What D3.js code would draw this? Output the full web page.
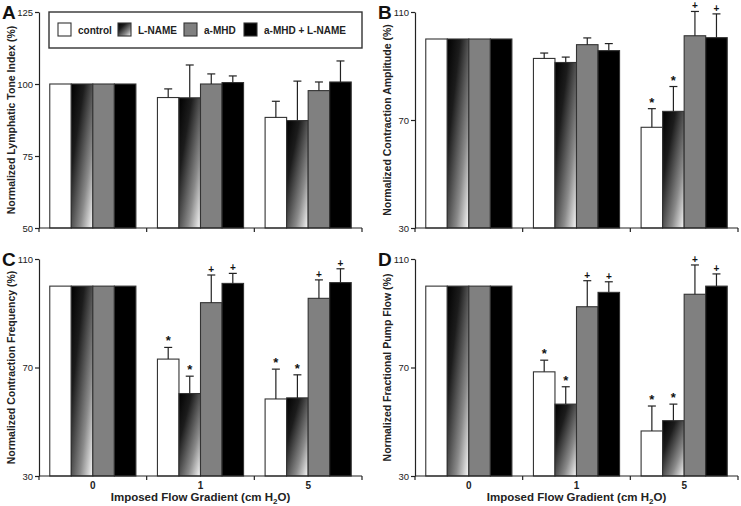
<!DOCTYPE html>
<html>
<head>
<meta charset="UTF-8">
<script src="https://d3js.org/d3.v7.min.js"></script>
<style>
  body { margin: 0; background: #fff; }
  svg { display: block; }
</style>
</head>
<body>
<svg></svg>
<script>
const width = 741, height = 506;
const font = "'Liberation Sans', Arial, sans-serif";

const groups = ["0", "1", "5"];
const series = ["control", "L-NAME", "a-MHD", "a-MHD + L-NAME"];

// means (%) and upper SE, one row per imposed flow gradient
const toneMean = [[100, 100, 100, 100], [95.3, 95.2, 100, 100.5], [88.4, 87.3, 97.7, 100.7]];
const toneErr  = [[0, 0, 0, 0], [3.0, 11.4, 3.5, 2.3], [5.6, 13.7, 3.0, 7.3]];

const ampMean = [[100, 100, 100, 100], [92.8, 91.3, 97.9, 95.7], [67.3, 73.2, 101.2, 100.5]];
const ampErr  = [[0, 0, 0, 0], [2.0, 2.0, 2.5, 2.6], [6.9, 9.2, 9.0, 8.8]];
const ampMarks = [["", "", "", ""], ["", "", "", ""], ["*", "*", "+", "+"]];

const freqMean = [[100, 100, 100, 100], [73.1, 60.4, 93.9, 101.0], [58.4, 58.8, 95.5, 101.3]];
const freqErr  = [[0, 0, 0, 0], [4.3, 6.4, 10.2, 3.7], [11.0, 8.5, 6.8, 5.1]];
const freqMarks = [["", "", "", ""], ["*", "*", "+", "+"], ["*", "*", "+", "+"]];

const pumpMean = [[100, 100, 100, 100], [68.4, 56.5, 92.4, 97.7], [46.6, 50.4, 97.0, 100.0]];
const pumpErr  = [[0, 0, 0, 0], [4.3, 6.4, 9.6, 3.9], [9.2, 6.1, 10.8, 4.5]];
const pumpMarks = [["", "", "", ""], ["*", "*", "+", "+"], ["*", "*", "+", "+"]];

const toneTicks = [50, 75, 100, 125];
const pctTicks = [30, 70, 110];

const svg = d3.select("svg")
    .attr("width", width)
    .attr("height", height)
    .attr("viewBox", [0, 0, width, height])
    .style("font-family", font);

const defs = svg.append("defs");
const grad = defs.append("linearGradient")
    .attr("id", "lname")
    .attr("x1", 0).attr("y1", 0).attr("x2", 1).attr("y2", 1);
[[0, "#000"], [0.3, "#1c1c1c"], [0.7, "#8a8a8a"], [1, "#fafafa"]].forEach(([o, c]) =>
  grad.append("stop").attr("offset", o).attr("stop-color", c));

const fills = d3.scaleOrdinal().domain(series).range(["#fff", "url(#lname)", "#808080", "#000"]);

function panel(p) {
  const g = svg.append("g");

  const y = d3.scaleLinear().domain(p.domain).range([p.bottom, p.top]);
  const x = d3.scaleBand().domain(groups).range([p.left, p.right])
      .paddingInner(0.2).paddingOuter(0.1);
  const xs = d3.scaleBand().domain(series).range([0, x.bandwidth()]);

  const rows = [];
  groups.forEach((grp, i) => series.forEach((s, j) => rows.push({
    grp, s, v: p.mean[i][j], e: p.err[i][j], m: p.marks ? p.marks[i][j] : ""
  })));

  g.append("g")
    .selectAll("rect")
    .data(rows)
    .join("rect")
      .attr("x", d => x(d.grp) + xs(d.s))
      .attr("y", d => y(d.v))
      .attr("width", xs.bandwidth())
      .attr("height", d => y(p.domain[0]) - y(d.v))
      .attr("fill", d => fills(d.s))
      .attr("stroke", "#333")
      .attr("stroke-width", 1.1);

  const eb = g.append("g")
      .attr("stroke", "#222")
      .attr("stroke-width", 1.2)
    .selectAll("g")
    .data(rows.filter(d => d.e > 0))
    .join("g")
      .attr("transform", d => `translate(${x(d.grp) + xs(d.s) + xs.bandwidth() / 2},0)`);
  eb.append("line")
      .attr("y1", d => y(d.v))
      .attr("y2", d => y(d.v + d.e));
  eb.append("line")
      .attr("x1", -4).attr("x2", 4)
      .attr("y1", d => y(d.v + d.e))
      .attr("y2", d => y(d.v + d.e));

  g.append("g")
    .selectAll("text")
    .data(rows.filter(d => d.m))
    .join("text")
      .attr("x", d => x(d.grp) + xs(d.s) + xs.bandwidth() / 2)
      .attr("y", d => y(d.v + d.e) - 2)
      .attr("text-anchor", "middle")
      .attr("font-size", d => d.m === "*" ? 13 : 10)
      .attr("font-weight", "bold")
      .attr("fill", "#111")
      .text(d => d.m);

  // y axis
  g.append("g")
      .attr("transform", `translate(${p.left},0)`)
      .call(d3.axisLeft(y).tickValues(p.ticks).tickSize(4).tickSizeOuter(0).tickPadding(2))
      .call(a => a.select(".domain").attr("stroke", "#222").attr("stroke-width", 1.2))
      .call(a => a.selectAll(".tick line").attr("stroke", "#222").attr("stroke-width", 1.2))
      .call(a => a.selectAll(".tick text").attr("font-size", 9.5).attr("font-family", font).attr("fill", "#222"));

  // x axis: line with ticks at category boundaries
  const bounds = groups.map(d => x(d) - x.step() * x.paddingInner() / 2)
      .concat([x(groups[groups.length - 1]) + x.bandwidth() + x.step() * x.paddingInner() / 2]);
  const xa = g.append("g").attr("stroke", "#222").attr("stroke-width", 1.2);
  xa.append("line")
      .attr("x1", p.left).attr("x2", p.right)
      .attr("y1", y(p.domain[0])).attr("y2", y(p.domain[0]));
  xa.selectAll("line.tk")
    .data(bounds)
    .join("line")
      .attr("class", "tk")
      .attr("x1", d => d).attr("x2", d => d)
      .attr("y1", y(p.domain[0])).attr("y2", y(p.domain[0]) + 4);

  if (p.xLabels) {
    g.append("g")
      .selectAll("text")
      .data(groups)
      .join("text")
        .attr("x", d => x(d) + x.bandwidth() / 2)
        .attr("y", p.bottom + 13)
        .attr("text-anchor", "middle")
        .attr("font-size", 10)
        .attr("font-weight", "bold")
        .attr("fill", "#222")
        .text(d => d);
    const t = g.append("text")
        .attr("x", (p.left + p.right) / 2)
        .attr("y", p.bottom + 25)
        .attr("text-anchor", "middle")
        .attr("font-size", 11.5)
        .attr("font-weight", "bold")
        .attr("fill", "#222");
    t.append("tspan").text("Imposed Flow Gradient (cm H");
    t.append("tspan").text("2").attr("font-size", 8).attr("dy", 3);
    t.append("tspan").text("O)").attr("dy", -3);
  }

  g.append("text")
      .attr("transform", `translate(${p.left - 24},${(p.top + p.bottom) / 2}) rotate(-90)`)
      .attr("text-anchor", "middle")
      .attr("font-size", 10.5)
      .attr("font-weight", "bold")
      .attr("fill", "#222")
      .text(p.title);

  g.append("text")
      .attr("x", p.left - 37)
      .attr("y", p.top + 7)
      .attr("font-size", 19)
      .attr("font-weight", "bold")
      .attr("fill", "#111")
      .text(p.letter);
}

panel({ letter: "A", left: 39, right: 362, top: 12, bottom: 228, domain: [50, 125], ticks: toneTicks,
  title: "Normalized Lymphatic Tone Index (%)", mean: toneMean, err: toneErr });
panel({ letter: "B", left: 415, right: 738, top: 12, bottom: 228, domain: [30, 110], ticks: pctTicks,
  title: "Normalized Contraction Amplitude (%)", mean: ampMean, err: ampErr, marks: ampMarks });
panel({ letter: "C", left: 39, right: 362, top: 259, bottom: 476, domain: [30, 110], ticks: pctTicks,
  title: "Normalized Contraction Frequency (%)", mean: freqMean, err: freqErr, marks: freqMarks, xLabels: true });
panel({ letter: "D", left: 415, right: 738, top: 259, bottom: 476, domain: [30, 110], ticks: pctTicks,
  title: "Normalized Fractional Pump Flow (%)", mean: pumpMean, err: pumpErr, marks: pumpMarks, xLabels: true });

// legend
const legend = svg.append("g");
legend.append("rect")
    .attr("x", 49).attr("y", 12).attr("width", 313).attr("height", 36)
    .attr("fill", "#fff").attr("stroke", "#333").attr("stroke-width", 1.4);
const legendX = [58, 118, 184, 244];
const li = legend.selectAll("g.item")
  .data(series)
  .join("g")
    .attr("class", "item")
    .attr("transform", (d, i) => `translate(${legendX[i]},23)`);
li.append("rect")
    .attr("width", 13).attr("height", 13)
    .attr("fill", d => fills(d))
    .attr("stroke", "#333").attr("stroke-width", 1.1);
li.append("text")
    .attr("x", 20).attr("y", 10.5)
    .attr("font-size", 10)
    .attr("font-weight", "bold")
    .attr("fill", "#222")
    .text(d => d);
</script>
</body>
</html>
